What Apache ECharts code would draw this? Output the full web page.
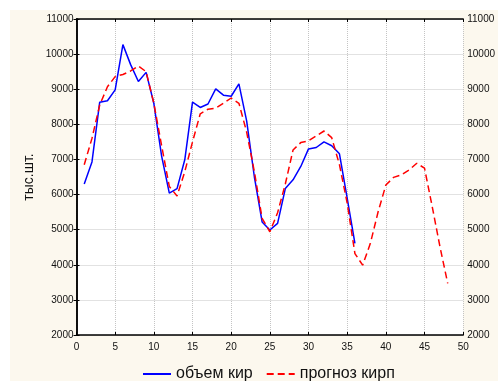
<!DOCTYPE html>
<html>
<head>
<meta charset="utf-8">
<script src="https://cdn.jsdelivr.net/npm/echarts@6/dist/echarts.min.js"></script>
<style>
  html, body { margin: 0; padding: 0; background: #fff; }
  #chart { width: 498px; height: 381px; }
</style>
</head>
<body>
<div id="chart"></div>
<script>
// периоды (ось X)
var periods = [1, 2, 3, 4, 5, 6, 7, 8, 9, 10, 11, 12, 13, 14, 15, 16, 17, 18, 19, 20, 21, 22, 23, 24,
  25, 26, 27, 28, 29, 30, 31, 32, 33, 34, 35, 36, 37, 38, 39, 40, 41, 42, 43, 44, 45, 46, 47, 48];
// объем кир, тыс.шт.
var volume = [6300, 6930, 8630, 8670, 8980, 10270, 9700, 9220, 9480, 8600, 7100, 6040,
  6170, 6990, 8630, 8480, 8580, 9010, 8830, 8800, 9150, 8100, 6500, 5220,
  4990, 5180, 6170, 6420, 6800, 7300, 7340, 7500, 7390, 7160, 5900, 4610];
// прогноз кирп, тыс.шт.
var forecast = [6850, 7600, 8550, 9070, 9360, 9420, 9520, 9660, 9500, 8600, 7400, 6230,
  5960, 6650, 7500, 8300, 8430, 8460, 8600, 8750, 8600, 7780, 6650, 5320,
  4940, 5480, 6300, 7270, 7480, 7530, 7670, 7810, 7620, 6850, 5760, 4320,
  3990, 4610, 5510, 6270, 6490, 6560, 6700, 6890, 6750, 5650, 4510, 3470];
var xTicks = [0, 50, 5];
var yTicks = [2000, 11000, 1000];

function pairs(vals) {
  return vals.map(function (v, i) { return [periods[i], v]; });
}
function plain(v) { return String(v); }

var chart = echarts.init(document.getElementById('chart'));
var font = 'Liberation Sans, Arial, sans-serif';
var axisLine = { show: true, lineStyle: { color: '#000', width: 1.5 } };
var tick = { show: true, inside: true, length: 3, lineStyle: { color: '#000' } };
var grid = { show: true, lineStyle: { color: '#c4c4c4', type: 'dotted', width: 1 } };

var option = {
  backgroundColor: '#fff',
  animation: false,
  graphic: [
    {
      type: 'rect', z: -10, silent: true,
      shape: { x: 10, y: 10, width: 488, height: 371 },
      style: { fill: '#fcf8ee' }
    },
    {
      // подпись оси Y
      type: 'text', x: 29, y: 177, rotation: Math.PI / 2,
      style: {
        text: 'тыс.шт.', font: '14px ' + font, fill: '#111',
        textAlign: 'center', textVerticalAlign: 'middle'
      }
    }
  ],
  grid: {
    left: 76.5, right: 30.5, top: 19, bottom: 46,
    show: true, backgroundColor: '#fff', borderWidth: 0
  },
  legend: {
    left: 137, top: 361,
    itemWidth: 28, itemHeight: 14, itemGap: 13,
    itemStyle: { opacity: 0 },
    textStyle: { fontSize: 16, fontFamily: font, color: '#111' },
    data: ['объем кир', 'прогноз кирп']
  },
  xAxis: [
    {
      type: 'value', min: xTicks[0], max: xTicks[1], interval: xTicks[2],
      position: 'bottom',
      axisLine: axisLine, axisTick: tick, splitLine: grid,
      axisLabel: { color: '#111', fontSize: 10, fontFamily: font, margin: 7, formatter: plain }
    },
    {
      type: 'value', min: xTicks[0], max: xTicks[1], interval: xTicks[2],
      position: 'top',
      axisLine: axisLine, axisTick: tick, splitLine: { show: false },
      axisLabel: { show: false }
    }
  ],
  yAxis: [
    {
      type: 'value', min: yTicks[0], max: yTicks[1], interval: yTicks[2],
      position: 'left',
      axisLine: axisLine, axisTick: tick, splitLine: grid,
      axisLabel: { color: '#111', fontSize: 10, fontFamily: font, margin: 3, formatter: plain }
    },
    {
      type: 'value', min: yTicks[0], max: yTicks[1], interval: yTicks[2],
      position: 'right',
      axisLine: axisLine, axisTick: tick, splitLine: { show: false },
      axisLabel: { color: '#111', fontSize: 10, fontFamily: font, margin: 4, formatter: plain }
    }
  ],
  series: [
    {
      name: 'объем кир',
      type: 'line',
      data: pairs(volume),
      symbol: 'none',
      lineStyle: { color: '#0000ff', width: 1.5 },
      itemStyle: { color: '#0000ff' },
      z: 3
    },
    {
      name: 'прогноз кирп',
      type: 'line',
      data: pairs(forecast),
      symbol: 'none',
      lineStyle: { color: '#ff0000', width: 1.5, type: [7, 4] },
      itemStyle: { color: '#ff0000' },
      z: 4
    }
  ]
};
chart.setOption(option);
</script>
</body>
</html>
